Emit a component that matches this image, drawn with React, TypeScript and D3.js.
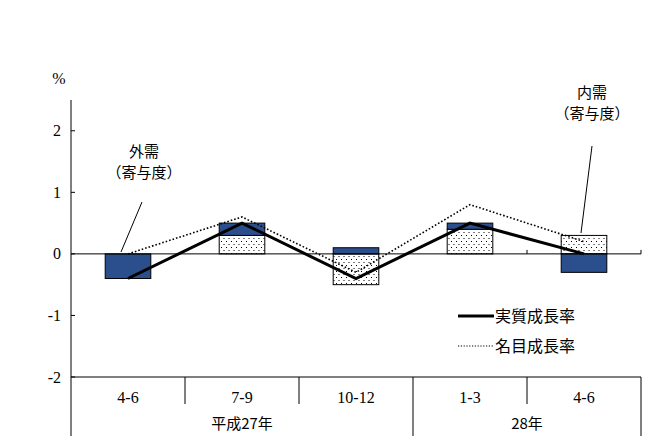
import React from "react";
import * as d3 from "d3";

const categories = ["4-6", "7-9", "10-12", "1-3", "4-6"];
const years = [
  { label: "平成27年", from: 0, to: 2 },
  { label: "28年", from: 3, to: 4 },
];
const domestic = [0.0, 0.3, -0.5, 0.4, 0.3];
const external = [-0.4, 0.2, 0.1, 0.1, -0.3];
const realGrowth = [-0.4, 0.5, -0.4, 0.5, 0.0];
const nominalGrowth = [0.0, 0.6, -0.3, 0.8, 0.2];
const yTicks = [-2, -1, 0, 1, 2];

const W = 649;
const H = 444;
const left = 71;
const right = 641;
const top = 100;
const bottom = 377;
const tableBottom = 436;

const JP = "'Noto Sans CJK JP', sans-serif";
const SERIF = "'Liberation Serif', 'DejaVu Serif', serif";
const BLUE = "#2B4F8C";

export default function App() {
  const x = d3
    .scaleBand<number>()
    .domain(categories.map((_, i) => i))
    .range([left, right])
    .paddingInner(0)
    .paddingOuter(0);
  const y = d3.scaleLinear().domain([-2, 2.5]).range([bottom, top]);
  const bw = x.bandwidth();
  const barW = bw * 0.4;
  const cx = (i: number) => (x(i) as number) + bw / 2;

  const rows = categories.map((_, i) => ({ domestic: domestic[i], external: external[i] }));
  const stacked = d3
    .stack<{ domestic: number; external: number }>()
    .keys(["domestic", "external"])
    .offset(d3.stackOffsetDiverging)(rows as any);

  const line = d3
    .line<number>()
    .x((_, i) => cx(i))
    .y((d) => y(d));

  return (
    <svg width={W} height={H} style={{ position: "absolute", left: 0, top: 0, background: "#fff" }}>
      <defs>
        <pattern id="dots" width="5" height="6" patternUnits="userSpaceOnUse">
          <rect width="5" height="6" fill="#fff" />
          <rect x="1" y="1" width="1" height="1" fill="#000" />
          <rect x="3.5" y="4" width="1" height="1" fill="#000" />
        </pattern>
      </defs>
      <rect width={W} height={H} fill="#fff" />

      {/* bars */}
      {stacked.map((s) =>
        s.map((d, i) => {
          const y0 = y(d[0]);
          const y1 = y(d[1]);
          const h = Math.abs(y0 - y1);
          if (h < 0.5) return null;
          return (
            <rect
              key={s.key + i}
              x={cx(i) - barW / 2}
              y={Math.min(y0, y1)}
              width={barW}
              height={h}
              fill={s.key === "domestic" ? "url(#dots)" : BLUE}
              stroke="#000"
              strokeWidth={1}
            />
          );
        })
      )}

      {/* zero line */}
      <line x1={left} x2={right} y1={y(0)} y2={y(0)} stroke="#000" strokeWidth={1} />
      {[4].map((i) => (
        <line key={i} x1={x(i) as number} x2={x(i) as number} y1={y(0)} y2={y(0) - 4} stroke="#000" />
      ))}
      <line x1={right} x2={right} y1={y(0)} y2={y(0) - 4} stroke="#000" />

      {/* lines */}
      <path d={line(nominalGrowth) || ""} fill="none" stroke="#000" strokeWidth={1.6} strokeDasharray="1.6 2" />
      <path d={line(realGrowth) || ""} fill="none" stroke="#000" strokeWidth={3} />

      {/* y axis */}
      <line x1={left} x2={left} y1={top} y2={tableBottom} stroke="#000" strokeWidth={1} />
      {yTicks.map((t) => (
        <g key={t}>
          <line x1={left} x2={left + 4} y1={y(t)} y2={y(t)} stroke="#000" />
          <text x={61} y={y(t)} dy="0.35em" textAnchor="end" fontFamily={SERIF} fontSize={16}>
            {t < 0 ? "-" + Math.abs(t) : String(t)}
          </text>
        </g>
      ))}
      <text x={59} y={78} dy="0.35em" textAnchor="middle" fontFamily={SERIF} fontSize={16}>
        %
      </text>

      {/* category table */}
      <line x1={left} x2={right} y1={bottom} y2={bottom} stroke="#000" />
      {categories.map((c, i) => (
        <text key={i} x={cx(i)} y={397} dy="0.35em" textAnchor="middle" fontFamily={SERIF} fontSize={16}>
          {c}
        </text>
      ))}
      {categories.map((_, i) => {
        if (i === 0) return null;
        const xx = x(i) as number;
        const isYear = years.some((yr) => yr.from === i);
        return <line key={i} x1={xx} x2={xx} y1={bottom} y2={isYear ? tableBottom : 404} stroke="#000" />;
      })}
      <line x1={right} x2={right} y1={bottom} y2={tableBottom} stroke="#000" />
      {years.map((yr) => (
        <text
          key={yr.label}
          x={((x(yr.from) as number) + (x(yr.to) as number) + bw) / 2}
          y={424}
          dy="0.35em"
          textAnchor="middle"
          fontFamily={JP}
          fontSize={15}
        >
          {yr.label}
        </text>
      ))}

      {/* annotations */}
      <text x={144} y={152} dy="0.35em" textAnchor="middle" fontFamily={JP} fontSize={15}>
        外需
      </text>
      <text x={144} y={173} dy="0.35em" textAnchor="middle" fontFamily={JP} fontSize={15}>
        （寄与度）
      </text>
      <line x1={142} y1={202} x2={121} y2={252} stroke="#000" strokeWidth={1} />

      <text x={592} y={93} dy="0.35em" textAnchor="middle" fontFamily={JP} fontSize={15}>
        内需
      </text>
      <text x={592} y={114} dy="0.35em" textAnchor="middle" fontFamily={JP} fontSize={15}>
        （寄与度）
      </text>
      <line x1={592} y1={146} x2={581} y2={233} stroke="#000" strokeWidth={1} />

      {/* legend */}
      <line x1={458} x2={494} y1={316} y2={316} stroke="#000" strokeWidth={3} />
      <text x={495} y={316} dy="0.35em" fontFamily={JP} fontSize={16}>
        実質成長率
      </text>
      <line x1={458} x2={494} y1={346} y2={346} stroke="#000" strokeWidth={1.2} strokeDasharray="1.2 1.6" />
      <text x={495} y={346} dy="0.35em" fontFamily={JP} fontSize={16}>
        名目成長率
      </text>
    </svg>
  );
}
